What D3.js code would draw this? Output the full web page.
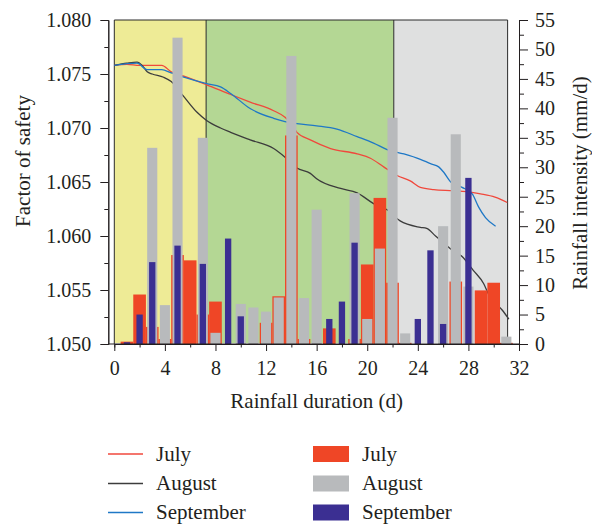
<!DOCTYPE html>
<html>
<head>
<meta charset="utf-8">
<script src="https://cdn.jsdelivr.net/npm/d3@7"></script>
<style>
  body { margin: 0; background: #fff; }
  text { font-family: "Liberation Serif", "DejaVu Serif", serif; fill: #231f20; }
</style>
</head>
<body>
<svg id="chart" width="592" height="526"></svg>
<script>
// rainfall per day (mm/d), day 1..31
const days = d3.range(1, 32)
const julyRain = [0.4, 8.4, 2.9, 0.85, 15.1, 14.2, 5.0, 7.2, 0, 0, 0, 3.6, 8.1, 35.4, 0.85, 0,
  2.65, 0, 0.85, 13.5, 24.8, 10.4, 0.2, 0, 0, 0, 10.6, 0, 9.1, 10.4, 0.2]
const augRain = [0, 0, 33.3, 6.6, 52.0, 0, 35.0, 1.9, 0, 6.8, 6.2, 5.5, 7.9, 48.9, 7.8, 22.8,
  0, 0, 25.6, 4.25, 16.2, 38.4, 1.8, 0, 0, 20.0, 35.6, 9.75, 0, 0, 1.25]
const sepRain = [0.3, 5.0, 13.9, 0, 16.7, 0, 13.6, 0, 17.9, 4.7, 0, 0, 0, 0, 0, 0,
  4.25, 7.2, 17.2, 0, 0, 0, 0, 4.25, 15.9, 3.4, 0, 28.2, 0, 0, 0]

// factor of safety curves [day, FS]
const julyFS = [[0,1.0758],[1,1.0759],[2,1.0758],[3.75,1.0758],[4.5,1.0752],[5.5,1.0748],[7.3,1.0740],
  [9.2,1.0731],[10.74,1.0724],[12.6,1.0716],[13.5,1.0710],[14.0,1.0704],[14.44,1.0696],[15.5,1.0689],
  [17.1,1.0681],[19.2,1.0676],[20.25,1.0672],[21.3,1.0664],[22.36,1.0656],[23.4,1.0651],[24.2,1.0645],
  [25.26,1.0643],[26.8,1.0642],[27.9,1.0641],[28.96,1.0639],[30.1,1.0636],[31.07,1.0631]]
const augFS = [[0,1.0758],[1.0,1.0760],[1.8,1.0761],[2.2,1.0758],[2.6,1.0752],[3.0,1.0750],[3.9,1.0747],
  [4.5,1.0743],[5.5,1.0729],[6.5,1.0715],[7.3,1.0707],[8.4,1.0700],[9.2,1.0696],[10.74,1.0689],
  [12.6,1.0681],[13.5,1.0673],[14.44,1.0663],[15.5,1.0658],[16.0,1.0653],[17.9,1.0644],[19.2,1.0640],
  [20.5,1.0630],[21.6,1.0624],[22.6,1.0614],[24.2,1.0608],[24.7,1.0607],[25.4,1.0600],[25.8,1.0596],
  [26.6,1.0588],[27.5,1.0581],[28.4,1.0568],[29.2,1.0556],[29.6,1.0546],[30.7,1.0531],[31.2,1.0523]]
const sepFS = [[0,1.0758],[1.8,1.0760],[2.6,1.0754],[3.75,1.0754],[4.5,1.0751],[5.5,1.0747],[7.3,1.0741],
  [8.4,1.0738],[9.2,1.0732],[10.74,1.0718],[12.6,1.0709],[13.5,1.0706],[14.44,1.0704],[16.0,1.0702],
  [17.6,1.0699],[19.2,1.0692],[20.5,1.0686],[21.57,1.0680],[22.9,1.0676],[24.2,1.0671],[25.0,1.0667],
  [25.65,1.0664],[26.05,1.0659],[26.6,1.0650],[27.5,1.0645],[28.3,1.0639],[28.8,1.0627],[29.35,1.0617],
  [30.15,1.0609]]

// shaded periods (days)
const periods = [[0, 7.26, "#eeeb96"], [7.26, 22.1, "#b4d794"], [22.1, 31.1, "#dfe0e0"]]

const xTicks = d3.range(0, 33, 4)
const fsTicks = d3.range(1.050, 1.0801, 0.005)
const rainTicks = d3.range(0, 56, 5)

const svg = d3.select("#chart")

let x = d3.scaleLinear().domain([0, 32]).range([114.3, 519])
let yFS = d3.scaleLinear().domain([1.050, 1.080]).range([344, 20])
let yRain = d3.scaleLinear().domain([0, 55]).range([344, 20])

// background periods
svg.append("g").selectAll("rect")
  .data(periods)
  .join("rect")
  .attr("x", d => x(d[0]))
  .attr("width", d => x(d[1]) - x(d[0]))
  .attr("y", yFS(1.080))
  .attr("height", yFS(1.050) - yFS(1.080) - 1)
  .attr("fill", d => d[2])

svg.append("g").selectAll("line")
  .data([7.26, 22.1])
  .join("line")
  .attr("x1", d => x(d)).attr("x2", d => x(d))
  .attr("y1", yFS(1.080)).attr("y2", yFS(1.050))
  .attr("stroke", "#2b2b2b").attr("stroke-width", 1)

// box outline (top and right)
svg.append("path")
  .attr("d", `M${x(0)},${yFS(1.050)}V${yFS(1.080)}H${x(31.1)}V${yFS(1.050)}`)
  .attr("fill", "none").attr("stroke", "#2b2b2b").attr("stroke-width", 1)

// FS lines
let line = d3.line().x(d => x(d[0])).y(d => yFS(d[1])).curve(d3.curveMonotoneX)
let lineSeries = [[julyFS, "#f0483c"], [augFS, "#3c3c3c"], [sepFS, "#1f78c6"]]
svg.append("g").selectAll("path")
  .data(lineSeries)
  .join("path")
  .attr("d", d => line(d[0]))
  .attr("fill", "none")
  .attr("stroke", d => d[1])
  .attr("stroke-width", 1.3)

// rainfall bars: July widest, then August, then September
let barSeries = [
  [julyRain, "#ef4626", 1.0],
  [augRain, "#b8babc", 0.8],
  [sepRain, "#3b2f92", 0.5]
]
barSeries.forEach(s => {
  svg.append("g").selectAll("rect")
    .data(days.map((d, i) => [d, s[0][i]]).filter(d => d[1] > 0))
    .join("rect")
    .attr("x", d => x(d[0] - s[2] / 2))
    .attr("width", x(s[2]) - x(0))
    .attr("y", d => yRain(d[1]))
    .attr("height", d => yRain(0) - yRain(d[1]))
    .attr("fill", s[1])
})

// axes
let axisColor = "#231f20"
let gx = svg.append("g").attr("transform", `translate(0,${yFS(1.050)})`)
gx.call(d3.axisBottom(x).tickValues(xTicks).tickSize(7).tickPadding(10).tickSizeOuter(0))
gx.append("g").call(d3.axisBottom(x).tickValues(d3.range(2, 32, 4)).tickSize(3.5).tickFormat(""))
gx.select(".domain").remove()
gx.append("line").attr("x1", x(0) - 6).attr("x2", x(32)).attr("stroke", axisColor)

let gl = svg.append("g").attr("transform", `translate(${x(0) - 6},0)`)
gl.call(d3.axisLeft(yFS).tickValues(fsTicks).tickSize(8).tickPadding(9).tickFormat(d3.format(".3f")).tickSizeOuter(0))
gl.append("g").call(d3.axisLeft(yFS).tickValues(d3.range(1.0525, 1.080, 0.005)).tickSize(4).tickFormat(""))

let gr = svg.append("g").attr("transform", `translate(${x(32)},0)`)
gr.call(d3.axisRight(yRain).tickValues(rainTicks).tickSize(9).tickPadding(7).tickSizeOuter(0))
gr.append("g").call(d3.axisRight(yRain).tickValues(d3.range(2.5, 55, 5)).tickSize(5).tickFormat(""))

svg.selectAll(".tick text").style("font-size", "20px").attr("fill", axisColor)
  .style("font-family", '"Liberation Serif", serif')
svg.selectAll(".tick line, .domain").attr("stroke", axisColor)

// axis titles
svg.append("text").attr("x", (x(0) + x(32)) / 2).attr("y", 408)
  .attr("text-anchor", "middle").style("font-size", "21px").text("Rainfall duration (d)")
svg.append("text").attr("transform", "translate(30,161) rotate(-90)")
  .attr("text-anchor", "middle").style("font-size", "21px").text("Factor of safety")
svg.append("text").attr("transform", "translate(587,183) rotate(-90)")
  .attr("text-anchor", "middle").style("font-size", "21px").text("Rainfall intensity (mm/d)")

// legend
let legendNames = ["July", "August", "September"]
let legendY = [454, 483.5, 512.5]
let lg = svg.append("g")
legendNames.forEach((name, i) => {
  lg.append("line").attr("x1", 108).attr("x2", 143)
    .attr("y1", legendY[i]).attr("y2", legendY[i])
    .attr("stroke", lineSeries[i][1]).attr("stroke-width", 1.3)
  lg.append("text").attr("x", 156).attr("y", legendY[i] + 6.5)
    .style("font-size", "21px").text(name)
  lg.append("rect").attr("x", 313).attr("y", legendY[i] - 8)
    .attr("width", 36).attr("height", 16).attr("fill", barSeries[i][1])
  lg.append("text").attr("x", 362).attr("y", legendY[i] + 6.5)
    .style("font-size", "21px").text(name)
})
</script>
</body>
</html>
